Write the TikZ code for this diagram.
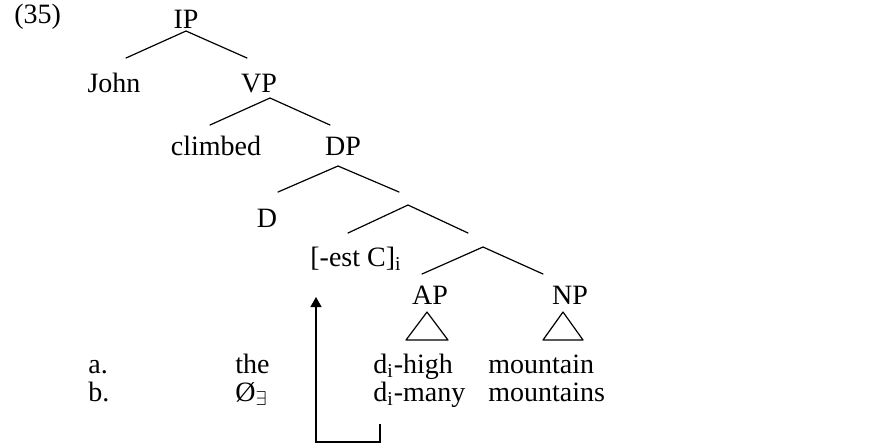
\documentclass[tikz,border=0pt]{standalone}
\usepackage{fontspec}
\setmainfont{Liberation Serif}
\usetikzlibrary{arrows.meta}
\tikzset{
  lbl/.style={inner sep=0pt, anchor=base, font=\fontsize{14}{16}\selectfont},
  lblw/.style={lbl, anchor=base west},
  branch/.style={line width=0.6pt, line cap=round, line join=round},
  trace/.style={line width=0.6pt, -{Triangle[length=5pt,width=5.5pt]}}
}
\begin{document}
\begin{tikzpicture}[x=0.5pt,y=-0.5pt]
\useasboundingbox (0,0) rectangle (873,447);
% labels
\node[lblw] (ex) at (14,23) {(35)};
\node[lbl] (IP) at (186,28) {IP};
\node[lbl] (John) at (114,92) {John};
\node[lbl] (VP) at (259,92) {VP};
\node[lbl] (climbed) at (216,155) {climbed};
\node[lbl] (DP) at (343,155) {DP};
\node[lbl] (D) at (267,227) {D};
\node[lblw] (est) at (310,266) {[-est C]\textsubscript{i}};
\node[lbl] (AP) at (430,304) {AP};
\node[lbl] (NP) at (570,304) {NP};
% rows
\node[lblw] (a) at (88,373) {a.};
\node[lblw] (athe) at (235,373) {the};
\node[lblw] (ahigh) at (373,373) {d\textsubscript{i}-high};
\node[lblw] (amount) at (488,373) {mountain};
\node[lblw] (b) at (88,401) {b.};
\node[lblw] (bnull) at (235,401) {Ø$_{\exists}$};
\node[lblw] (bmany) at (373,401) {d\textsubscript{i}-many};
\node[lblw] (bmount) at (488,401) {mountains};
% branch points
\coordinate (IPa) at (186,31);  \coordinate (IPl) at (126,58);  \coordinate (IPr) at (247,58);
\coordinate (VPa) at (270,98);  \coordinate (VPl) at (210,125); \coordinate (VPr) at (330,125);
\coordinate (DPa) at (338,166); \coordinate (DPl) at (278,192); \coordinate (DPr) at (399,192);
\coordinate (U1a) at (408,205); \coordinate (U1l) at (348,233); \coordinate (U1r) at (468,233);
\coordinate (U2a) at (483,247); \coordinate (U2l) at (422,274); \coordinate (U2r) at (543,274);
\draw[branch] (IPl) -- (IPa) -- (IPr);
\draw[branch] (VPl) -- (VPa) -- (VPr);
\draw[branch] (DPl) -- (DPa) -- (DPr);
\draw[branch] (U1l) -- (U1a) -- (U1r);
\draw[branch] (U2l) -- (U2a) -- (U2r);
% triangles
\coordinate (APt) at (427,312);
\coordinate (NPt) at (563,312);
\draw[branch] (APt) -- ++(-21,28) -- ++(42,0) -- cycle;
\draw[branch] (NPt) -- ++(-20,28) -- ++(40,0) -- cycle;
% movement arrow
\coordinate (trS) at (380,424);
\coordinate (trB) at (380,442);
\coordinate (trT) at (316,297);
\draw[trace] (trS) -- (trB) -| (trT);
\end{tikzpicture}
\end{document}
